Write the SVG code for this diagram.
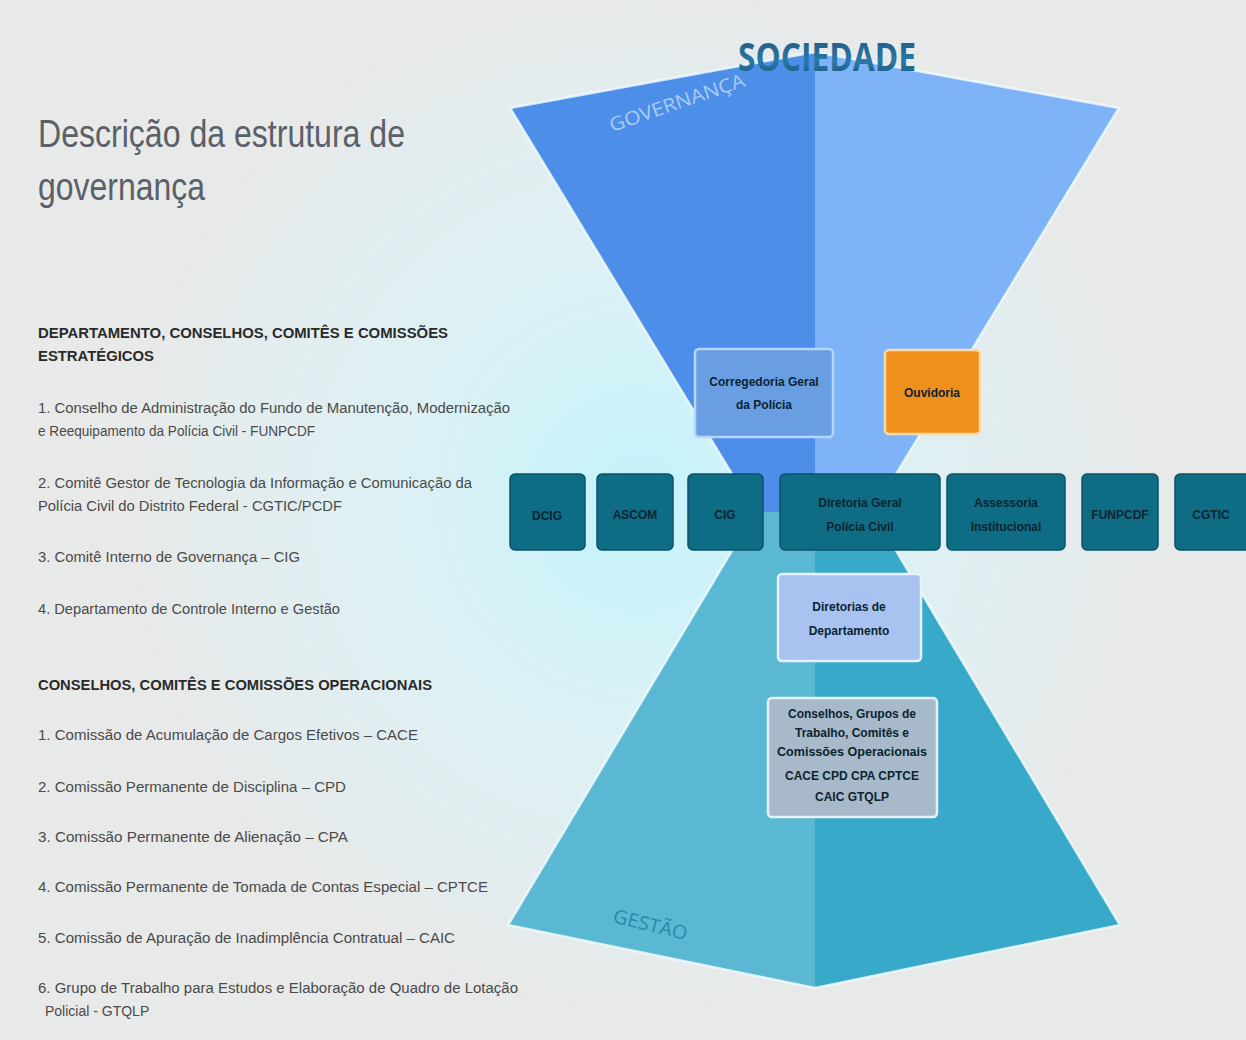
<svg xmlns="http://www.w3.org/2000/svg" width="1246" height="1040" viewBox="0 0 1246 1040">
<defs>
<radialGradient id="bg" cx="640" cy="500" r="520" gradientUnits="userSpaceOnUse">
<stop offset="0" stop-color="#c4f3fb"/>
<stop offset="0.45" stop-color="#dcf1f5"/>
<stop offset="1" stop-color="#e8e9e9"/>
</radialGradient>
<linearGradient id="soc" x1="0" y1="0" x2="0" y2="1">
<stop offset="0" stop-color="#1b4f72"/>
<stop offset="0.6" stop-color="#2a78a8"/>
<stop offset="1" stop-color="#15506f"/>
</linearGradient>
<style>
.lt{font-family:"Liberation Sans",Arial,sans-serif;fill:#4a4a4a;font-size:14px}
.hd{font-family:"Liberation Sans",Arial,sans-serif;fill:#2a2a2a;font-size:14px;font-weight:bold}
.ttl{font-family:"Liberation Sans",Arial,sans-serif;fill:#5a6068;font-size:38px}
.row rect{fill:#0f6c85;stroke:#0a5368;stroke-width:1.5}
.bt{font-family:"Liberation Sans",Arial,sans-serif;font-weight:bold;font-size:12px;fill:#0a2430;text-anchor:middle}
.edge{fill:none;stroke:#f2fdff;stroke-width:2.5;stroke-opacity:0.8;stroke-linejoin:round}
</style>
</defs>
<rect x="0" y="0" width="1246" height="1040" fill="url(#bg)"/>

<g id="pyramids">
<polygon points="510,108 815,52 815,512 755,512" fill="#4d8ee8"/>
<polygon points="815,52 1119,108 873,512 815,512" fill="#7fb3f7"/>
<polygon points="755,512 815,512 815,988 508,925" fill="#5ab8d3"/>
<polygon points="815,512 873,512 1120,925 815,988" fill="#38a9c9"/>
<polyline class="edge" points="815,52 510,108 755,512 508,925 815,988 1120,925 873,512 1119,108 815,52"/>
<text x="0" y="0" transform="translate(612,132) rotate(-19)" font-family="'Open Sans','Liberation Sans',sans-serif" font-size="19" fill="#a9ccf4" textLength="142" lengthAdjust="spacingAndGlyphs">GOVERNANÇA</text>
<text x="0" y="0" transform="translate(612,922) rotate(14)" font-family="'Open Sans','Liberation Sans',sans-serif" font-size="19" fill="#2b8aa9" textLength="76" lengthAdjust="spacingAndGlyphs">GESTÃO</text>
</g>

<g id="sociedade">
<text x="738" y="71" font-family="'Open Sans','Liberation Sans',sans-serif" font-weight="bold" font-size="40" fill="url(#soc)" textLength="178" lengthAdjust="spacingAndGlyphs">SOCIEDADE</text>
</g>

<g id="title">
<text class="ttl" x="38" y="147" textLength="367" lengthAdjust="spacingAndGlyphs">Descrição da estrutura de</text>
<text class="ttl" x="38" y="200" textLength="167" lengthAdjust="spacingAndGlyphs">governança</text>
</g>

<g id="estrategicos">
<text class="hd" x="38" y="338" textLength="410" lengthAdjust="spacingAndGlyphs">DEPARTAMENTO, CONSELHOS, COMITÊS E COMISSÕES</text>
<text class="hd" x="38" y="361" textLength="116" lengthAdjust="spacingAndGlyphs">ESTRATÉGICOS</text>
<text class="lt" x="38" y="413" textLength="472" lengthAdjust="spacingAndGlyphs">1. Conselho de Administração do Fundo de Manutenção, Modernização</text>
<text class="lt" x="38" y="436" textLength="277" lengthAdjust="spacingAndGlyphs">e Reequipamento da Polícia Civil - FUNPCDF</text>
<text class="lt" x="38" y="488" textLength="434" lengthAdjust="spacingAndGlyphs">2. Comitê Gestor de Tecnologia da Informação e Comunicação da</text>
<text class="lt" x="38" y="511" textLength="304" lengthAdjust="spacingAndGlyphs">Polícia Civil do Distrito Federal - CGTIC/PCDF</text>
<text class="lt" x="38" y="562" textLength="262" lengthAdjust="spacingAndGlyphs">3. Comitê Interno de Governança – CIG</text>
<text class="lt" x="38" y="614" textLength="302" lengthAdjust="spacingAndGlyphs">4. Departamento de Controle Interno e Gestão</text>
</g>

<g id="operacionais">
<text class="hd" x="38" y="690" textLength="394" lengthAdjust="spacingAndGlyphs">CONSELHOS, COMITÊS E COMISSÕES OPERACIONAIS</text>
<text class="lt" x="38" y="740" textLength="380" lengthAdjust="spacingAndGlyphs">1.  Comissão de Acumulação de Cargos Efetivos – CACE</text>
<text class="lt" x="38" y="792" textLength="308" lengthAdjust="spacingAndGlyphs">2.  Comissão Permanente de Disciplina – CPD</text>
<text class="lt" x="38" y="842" textLength="310" lengthAdjust="spacingAndGlyphs">3.  Comissão Permanente de Alienação – CPA</text>
<text class="lt" x="38" y="892" textLength="450" lengthAdjust="spacingAndGlyphs">4.  Comissão Permanente de Tomada de Contas Especial – CPTCE</text>
<text class="lt" x="38" y="943" textLength="417" lengthAdjust="spacingAndGlyphs">5.  Comissão de Apuração de Inadimplência Contratual – CAIC</text>
<text class="lt" x="38" y="993" textLength="480" lengthAdjust="spacingAndGlyphs">6.  Grupo de Trabalho para Estudos e Elaboração de Quadro de Lotação</text>
<text class="lt" x="45" y="1016">Policial - GTQLP</text>
</g>

<g id="connectors"></g>

<g id="corregedoria">
<rect x="695" y="349" width="138" height="88" rx="4" fill="#6a9ee2" stroke="#b4d6fa" stroke-width="2.5"/>
<text class="bt" x="764" y="386" fill="#14264a">Corregedoria Geral</text>
<text class="bt" x="764" y="409" fill="#14264a">da Polícia</text>
</g>
<g id="ouvidoria">
<rect x="885" y="350" width="95" height="84" rx="4" fill="#f0901c" stroke="#fbd9a8" stroke-width="2.5"/>
<text class="bt" x="932" y="397" fill="#2a1a08">Ouvidoria</text>
</g>

<g class="row">
<g id="dcig"><rect x="510" y="474" width="75" height="76" rx="5"/><text class="bt" x="547" y="520">DCIG</text></g>
<g id="ascom"><rect x="597" y="474" width="76" height="76" rx="5"/><text class="bt" x="635" y="519">ASCOM</text></g>
<g id="cig"><rect x="688" y="474" width="75" height="76" rx="5"/><text class="bt" x="725" y="519">CIG</text></g>
<g id="diretoria-geral"><rect x="780" y="474" width="160" height="76" rx="5"/><text class="bt" x="860" y="507">Diretoria Geral</text><text class="bt" x="860" y="531">Polícia Civil</text></g>
<g id="assessoria"><rect x="947" y="474" width="118" height="76" rx="5"/><text class="bt" x="1006" y="507">Assessoria</text><text class="bt" x="1006" y="531">Institucional</text></g>
<g id="funpcdf"><rect x="1082" y="474" width="76" height="76" rx="5"/><text class="bt" x="1120" y="519">FUNPCDF</text></g>
<g id="cgtic"><rect x="1175" y="474" width="80" height="76" rx="5"/><text class="bt" x="1211" y="519">CGTIC</text></g>
</g>

<g id="diretorias">
<rect x="778" y="574" width="143" height="87" rx="4" fill="#a9c2f0" stroke="#e4f2fc" stroke-width="2.5"/>
<text class="bt" x="849" y="611" fill="#14264a">Diretorias de</text>
<text class="bt" x="849" y="635" fill="#14264a">Departamento</text>
</g>

<g id="conselhos">
<rect x="768" y="698" width="169" height="119" rx="4" fill="#a8b9c9" stroke="#e4f2fc" stroke-width="2.5"/>
<text class="bt" x="852" y="718" font-size="11" fill="#17303a">Conselhos, Grupos de</text>
<text class="bt" x="852" y="737" font-size="11" fill="#17303a">Trabalho, Comitês e</text>
<text class="bt" x="852" y="756" font-size="11" fill="#17303a" textLength="150" lengthAdjust="spacingAndGlyphs">Comissões Operacionais</text>
<text class="bt" x="852" y="780" font-size="8" fill="#17303a">CACE CPD CPA CPTCE</text>
<text class="bt" x="852" y="801" font-size="8" fill="#17303a">CAIC GTQLP</text>
</g>
</svg>
